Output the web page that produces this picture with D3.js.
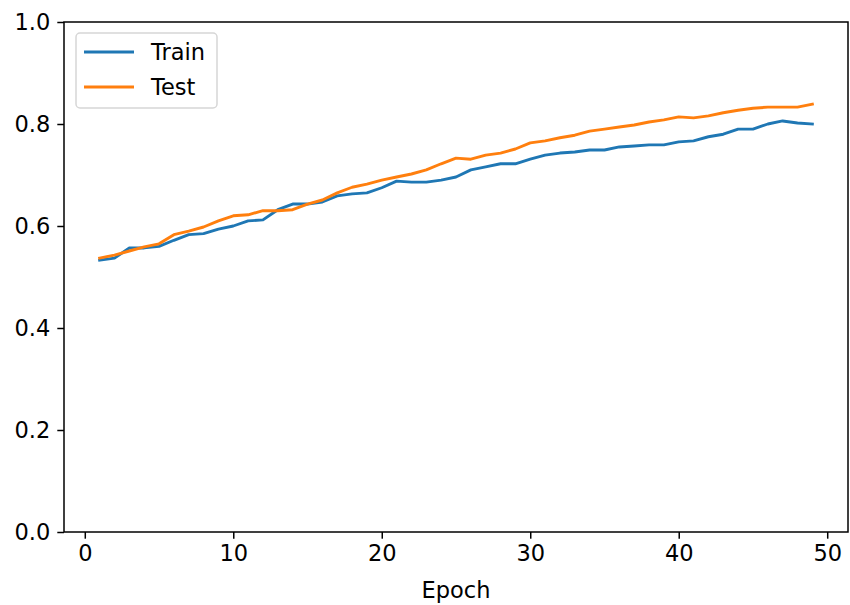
<!DOCTYPE html>
<html><head><meta charset="utf-8">
<script src="https://cdn.jsdelivr.net/npm/d3@7"></script>
<style>body{margin:0;background:#fff}svg{display:block}text{font-family:"DejaVu Sans",sans-serif}</style>
</head><body><svg id="c" width="850" height="605"></svg>
<script>
const epochs = d3.range(1, 50);
const train = [0.533,0.537,0.557,0.557,0.560,0.572,0.583,0.585,0.594,0.600,0.610,0.612,0.632,0.643,0.643,0.647,0.659,0.663,0.665,0.675,0.688,0.686,0.686,0.690,0.696,0.710,0.716,0.722,0.722,0.731,0.739,0.743,0.745,0.749,0.749,0.755,0.757,0.759,0.759,0.765,0.767,0.775,0.780,0.790,0.790,0.800,0.806,0.802,0.800];
const test = [0.537,0.543,0.551,0.559,0.565,0.583,0.590,0.598,0.610,0.620,0.622,0.630,0.630,0.632,0.643,0.651,0.665,0.676,0.682,0.690,0.696,0.702,0.710,0.722,0.733,0.731,0.739,0.743,0.751,0.763,0.767,0.773,0.778,0.786,0.790,0.794,0.798,0.804,0.808,0.814,0.812,0.816,0.822,0.827,0.831,0.833,0.833,0.833,0.839];
const xTicks = [0,10,20,30,40,50];
const yTicks = [0,0.2,0.4,0.6,0.8,1.0];
const seriesNames = ["Train","Test"];
const colors = ["#1f77b4","#ff7f0e"];

const L=64,R=848,T=22,B=532;
const FS=22.5;
const svg=d3.select("#c");
const x=d3.scaleLinear().domain([-1.4,51.4]).range([L,R]);
const y=d3.scaleLinear().domain([0,1]).range([B,T]);

const line=d3.line().x((d,i)=>x(epochs[i])).y(d=>y(d));
[train,test].forEach((s,k)=>{
  svg.append("path").datum(s).attr("d",line).attr("fill","none")
    .attr("stroke",colors[k]).attr("stroke-width",2.9).attr("stroke-linejoin","round").attr("stroke-linecap","square");
});

const xa=svg.append("g").attr("transform",`translate(0,${B})`)
  .call(d3.axisBottom(x).tickValues(xTicks).tickFormat(d3.format("d")).tickSize(6.7).tickPadding(6));
const ya=svg.append("g").attr("transform",`translate(${L},0)`)
  .call(d3.axisLeft(y).tickValues(yTicks).tickFormat(d3.format(".1f")).tickSize(6.7).tickPadding(7));
[xa,ya].forEach(g=>{g.select(".domain").remove();
  g.selectAll("line").attr("stroke","#000").attr("stroke-width",1.5);
  g.selectAll("text").attr("font-size",FS).attr("fill","#000").attr("font-family","DejaVu Sans");});
svg.append("rect").attr("x",L).attr("y",T).attr("width",R-L).attr("height",B-T)
  .attr("fill","none").attr("stroke","#000").attr("stroke-width",1.5);

svg.append("text").attr("x",(L+R)/2).attr("y",598).attr("text-anchor","middle")
  .attr("font-size",FS).text("Epoch");

const lg=svg.append("g");
lg.append("rect").attr("x",76).attr("y",33).attr("width",141).attr("height",75).attr("rx",4)
  .attr("fill","#fff").attr("fill-opacity",0.8).attr("stroke","#d6d6d6").attr("stroke-width",1.5);
seriesNames.forEach((n,k)=>{
  const yy=52+k*35;
  lg.append("line").attr("x1",84).attr("x2",134).attr("y1",yy).attr("y2",yy).attr("stroke",colors[k]).attr("stroke-width",2.9);
  lg.append("text").attr("x",151).attr("y",yy+8).attr("font-size",FS).text(n);
});
</script></body></html>
